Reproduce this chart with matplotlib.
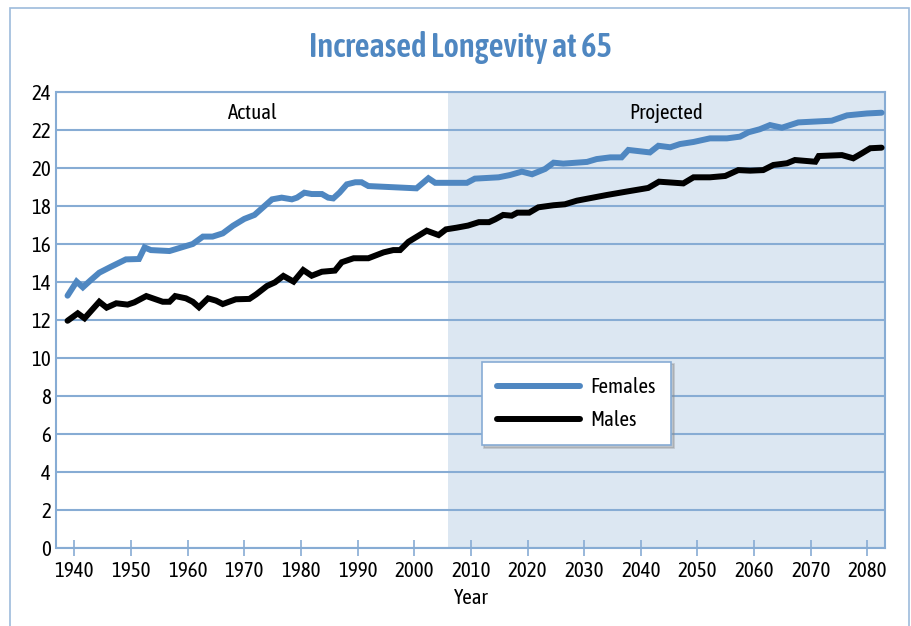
import matplotlib
matplotlib.use('Agg')
import matplotlib.pyplot as plt
from matplotlib.patches import Rectangle

plt.rcParams['font.family'] = ['Asap Condensed', 'DejaVu Sans']

# values (life expectancy at 65, years)
female_years = [1938.8, 1940.4, 1941.5, 1942.9, 1944.4, 1946.5, 1949.1, 1951.4, 1952.4, 1953.5,
                1956.8, 1960.9, 1962.7, 1964.4, 1966.2, 1968.0, 1970.0, 1971.8, 1974.9, 1976.6,
                1978.4, 1979.3, 1980.6, 1981.9, 1983.7, 1984.8, 1985.7, 1986.8, 1988.1, 1989.6,
                1990.7, 1991.9, 2000.4, 2002.5, 2003.7, 2009.3, 2010.7, 2014.9, 2016.9, 2019.0,
                2020.8, 2023.1, 2024.6, 2026.3, 2030.5, 2032.2, 2034.6, 2036.6, 2037.8, 2041.6,
                2043.1, 2045.2, 2046.9, 2049.3, 2052.2, 2055.2, 2057.5, 2059.0, 2061.0, 2062.8,
                2064.9, 2067.8, 2073.7, 2076.4, 2079.9, 2082.5]
females = [13.28, 14.02, 13.72, 14.10, 14.49, 14.81, 15.19, 15.21, 15.82, 15.68,
           15.63, 16.00, 16.39, 16.39, 16.56, 16.96, 17.32, 17.53, 18.35, 18.44,
           18.35, 18.44, 18.70, 18.63, 18.63, 18.44, 18.40, 18.70, 19.14, 19.25,
           19.25, 19.05, 18.93, 19.46, 19.22, 19.22, 19.44, 19.51, 19.63, 19.81,
           19.67, 19.95, 20.28, 20.23, 20.32, 20.47, 20.56, 20.56, 20.95, 20.82,
           21.17, 21.09, 21.26, 21.37, 21.56, 21.56, 21.65, 21.88, 22.04, 22.26,
           22.12, 22.40, 22.49, 22.77, 22.87, 22.91]

male_years = [1938.8, 1940.6, 1941.8, 1944.4, 1945.7, 1947.4, 1949.4, 1950.6, 1952.7, 1955.6,
              1956.8, 1957.8, 1959.7, 1960.9, 1962.0, 1963.6, 1965.0, 1966.2, 1968.5, 1970.9,
              1972.1, 1974.0, 1975.4, 1976.9, 1978.7, 1980.4, 1981.9, 1983.7, 1986.0, 1987.2,
              1989.3, 1991.9, 1994.6, 1996.3, 1997.5, 1999.0, 2002.2, 2004.3, 2005.6, 2007.5,
              2009.5, 2011.4, 2013.2, 2014.3, 2015.7, 2017.2, 2018.2, 2020.3, 2021.9, 2024.6,
              2026.6, 2028.7, 2034.0, 2037.5, 2041.3, 2043.2, 2047.5, 2049.3, 2052.2, 2054.9,
              2057.2, 2059.3, 2061.6, 2063.4, 2065.8, 2067.2, 2070.8, 2071.4, 2075.5, 2077.5,
              2079.0, 2080.5, 2082.5]
males = [11.96, 12.35, 12.09, 12.96, 12.65, 12.88, 12.81, 12.93, 13.26, 12.96,
         12.96, 13.26, 13.14, 12.96, 12.67, 13.14, 13.02, 12.84, 13.09, 13.11,
         13.35, 13.79, 13.98, 14.32, 14.02, 14.63, 14.33, 14.54, 14.60, 15.04,
         15.25, 15.25, 15.56, 15.68, 15.68, 16.12, 16.70, 16.47, 16.77, 16.86,
         16.97, 17.15, 17.15, 17.30, 17.53, 17.49, 17.65, 17.65, 17.93, 18.04,
         18.09, 18.28, 18.58, 18.76, 18.95, 19.28, 19.19, 19.51, 19.51, 19.58,
         19.89, 19.86, 19.89, 20.16, 20.25, 20.42, 20.33, 20.63, 20.68, 20.51,
         20.77, 21.04, 21.07]

x_ticks = list(range(1940, 2081, 10))
y_ticks = list(range(0, 25, 2))
projection_start = 2006

blue = '#4f87c1'
grid_blue = '#87acd4'
shade = '#dce7f2'

fig = plt.figure(figsize=(9.12, 6.26), dpi=100)
# outer frame
fig.patches.append(Rectangle((10.5 / 912, -0.05), 898.5 / 912, 1.05 - 8 / 626,
                             transform=fig.transFigure, fill=False,
                             edgecolor='#9dbbdc', linewidth=1.2))

ax = fig.add_axes([56.5 / 912, 78 / 626, 828.5 / 912, 456 / 626])
ax.set_xlim(1936.85, 2083.1)
ax.set_ylim(0, 24)

ax.axvspan(projection_start, 2083.1, color=shade, zorder=0, lw=0)
ax.set_axisbelow(True)
ax.yaxis.grid(True, color=grid_blue, linewidth=1.5)

ax.plot(female_years, females, color=blue, lw=4.3, solid_capstyle='round',
        solid_joinstyle='miter', label='Females', zorder=3)
ax.plot(male_years, males, color='black', lw=4.3, solid_capstyle='round',
        solid_joinstyle='miter', label='Males', zorder=3)

for s in ax.spines.values():
    s.set_color(grid_blue)
    s.set_linewidth(1.5)

ax.set_xticks(x_ticks)
ax.set_yticks(y_ticks)
ax.tick_params(axis='x', direction='inout', length=11, width=1.2, color=grid_blue,
               labelsize=15, pad=4)
ax.tick_params(axis='y', length=0, labelsize=15, pad=4)
ax.set_xlabel('Year', fontsize=15, labelpad=5)

ax.text((1936.85 + projection_start) / 2, 22.9, 'Actual', ha='center', va='center', fontsize=15)
ax.text((projection_start + 2083.1) / 2, 22.9, 'Projected', ha='center', va='center', fontsize=15)

leg = ax.legend(loc='upper left', bbox_to_anchor=(0.513, 0.4086), borderaxespad=0,
                fontsize=15, handlelength=4.0, handletextpad=0.45, labelspacing=0.6,
                borderpad=0.75, fancybox=False, framealpha=1,
                shadow={'color': '0.55', 'alpha': 0.4})
leg.get_frame().set_edgecolor(grid_blue)
leg.get_frame().set_linewidth(1.2)
for h in leg.get_lines():
    h.set_solid_capstyle('round')

fig.text(460 / 912, 1 - 48 / 626, 'Increased Longevity at 65', ha='center', va='center',
         fontsize=23.5, fontweight='semibold', color=blue)

fig.savefig('out.png', dpi=100)
